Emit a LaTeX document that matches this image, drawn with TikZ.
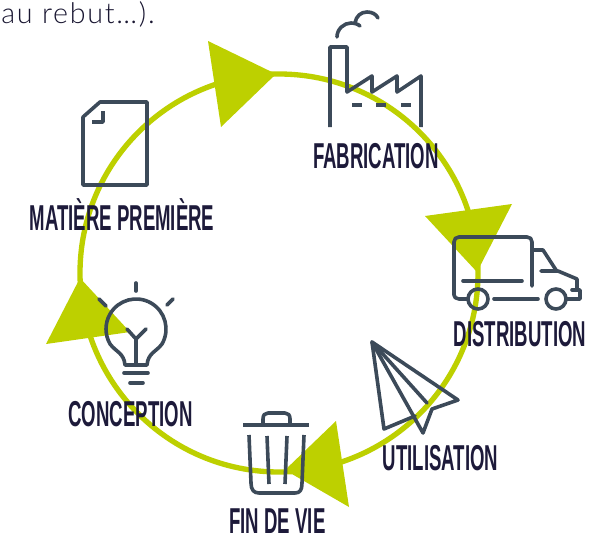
\documentclass[tikz,border=0pt]{standalone}
\usepackage{fontspec}
\setmainfont{Liberation Sans}
\newfontfamily\labfont[FakeStretch=0.517]{Liberation Sans Bold}
\newfontfamily\topfont[LetterSpace=6]{Lato Light}
\definecolor{lime}{HTML}{BDD000}
\definecolor{slate}{HTML}{3C4A59}
\definecolor{ink}{HTML}{1D1A3A}
\tikzset{
  x=0.75pt,y=-0.75pt,
  ring/.style={draw=lime,line width=4pt},
  tip/.style={fill=lime,draw=none},
  icon/.style={draw=slate,line width=2.7pt,line join=round,line cap=round},
  lab/.style={text=ink,inner sep=0pt,anchor=base,font=\labfont\fontsize{27}{29}\selectfont},
}
\begin{document}
\begin{tikzpicture}
\useasboundingbox (0,0) rectangle (604,539);
\node[anchor=base west,inner sep=0pt,text=ink!85!black,font=\topfont\fontsize{21.5}{24}\selectfont] (top) at (1,23) {au rebut…).};
% ring
\coordinate (c) at (279,273);
\draw[ring] (c) circle[radius=199];
% arrowheads
\fill[tip] (208,41) -- (221,127) -- (276,74) -- cycle;
\fill[tip] (425,216) -- (512,204) -- (477,272) -- cycle;
\fill[tip] (336,421) -- (349,507) -- (285,470) -- cycle;
\fill[tip] (46,344) -- (130,332) -- (80,278) -- cycle;
% document
\draw[icon] (100,102) -- (147,102) -- (147,185) -- (83,185) -- (83,117) -- cycle;
\draw[icon,line cap=butt] (103,111) -- (103,122) -- (92,122);
% factory
\draw[icon,line cap=butt] (330,127) -- (330,47) -- (347,47) -- (347,92) -- (372,76) -- (372,92) -- (397,76) -- (397,92) -- (421,76) -- (421,127);
\draw[icon,line cap=butt] (352,105) -- (362,105) (376,105) -- (386,105) (401,105) -- (411,105);
\draw[icon] (337,37) .. controls (337,29) and (344,23) .. (351,23) .. controls (354,23) and (358,24) .. (360,26);
\draw[icon] (355,23) .. controls (356,16) and (361,12) .. (367,12) .. controls (372,12) and (376,14) .. (378,18);
% truck
\draw[icon] (468,299) -- (459,299) .. controls (456,299) and (454,297) .. (454,295) -- (454,242) .. controls (454,239) and (456,237) .. (459,237) -- (527,237) .. controls (530,237) and (532,239) .. (532,242) -- (532,286);
\draw[icon] (463,281) -- (522,281);
\draw[icon] (478,299) circle[radius=10];
\draw[icon] (556,299) circle[radius=10];
\draw[icon] (494,299) -- (538,299);
\draw[icon] (567,299) -- (580,299) -- (580,290) -- (572,290);
\draw[icon] (533,250) -- (543,250) -- (556,270);
\draw[icon] (541,271) -- (558,271) -- (577,279) -- (577,290);
% plane
\draw[icon] (372,342) -- (458,400) -- (432,409) -- (423,433) -- cycle;
\draw[icon] (372,342) -- (384,429) -- (415,416);
\draw[icon] (372,342) -- (427,403);
% bin
\draw[icon,line cap=butt] (243,425) -- (309,425);
\draw[icon] (263,425) -- (263,419) .. controls (263,415) and (265,413) .. (268,413) -- (285,413) .. controls (288,413) and (290,415) .. (290,419) -- (290,425);
\draw[icon,line cap=butt] (249,435) -- (251,483) .. controls (251,490) and (254,493) .. (259,493) -- (295,493) .. controls (300,493) and (302,490) .. (302,483) -- (304,435);
\draw[icon,line cap=butt] (267,436) -- (269,484);
\draw[icon,line cap=butt] (287,436) -- (285,484);
% bulb
\draw[icon] (147,365) .. controls (148,353) and (156,352) .. (162,344) arc[start angle=30,end angle=-210,radius=30] .. controls (116,352) and (124,353) .. (125,365) -- cycle;
\draw[icon] (136,365) -- (136,339);
\draw[icon] (127,329) -- (136,339) -- (146,329);
\draw[icon] (136,283) -- (136,291);
\draw[icon] (99,299) -- (106,306);
\draw[icon] (173,299) -- (167,305);
\draw[icon] (124,373) -- (148,373);
\draw[icon] (130,383) -- (143,383);
% labels
\node[lab] (matiere) at (122,230) {MATIÈRE PREMIÈRE};
\node[lab] (fabrication) at (376,168) {FABRICATION};
\node[lab] (distribution) at (520,346) {DISTRIBUTION};
\node[lab] (utilisation) at (440.5,470) {UTILISATION};
\node[lab] (conception) at (130.5,426) {CONCEPTION};
\node[lab] (findevie) at (277.5,533) {FIN DE VIE};
\end{tikzpicture}
\end{document}
